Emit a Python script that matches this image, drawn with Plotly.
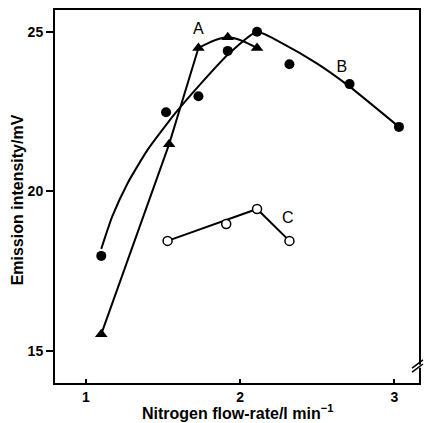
import plotly.graph_objects as go

# Series A (triangles)
flow_A = [1.10, 1.54, 1.73, 1.92, 2.11]
emis_A = [15.53, 21.48, 24.49, 24.83, 24.49]
# Series B (filled circles)
flow_B = [1.10, 1.52, 1.73, 1.92, 2.11, 2.32, 2.71, 3.03]
emis_B = [17.98, 22.48, 22.98, 24.40, 25.00, 23.98, 23.36, 22.02]
# Series C (open circles)
flow_C = [1.53, 1.91, 2.11, 2.32]
emis_C = [18.45, 18.98, 19.45, 18.45]
# Hand-drawn fitted curve for B, read along its path
curveB_x = [1.10, 1.17, 1.27, 1.40, 1.58, 1.75, 1.92, 2.11, 2.28, 2.50, 2.71, 3.03]
curveB_y = [18.20, 19.20, 20.25, 21.30, 22.45, 23.40, 24.28, 25.00, 24.62, 24.00, 23.28, 22.02]

x_ticks = [1, 2, 3]
y_ticks = [15, 20, 25]
labels = ["A", "B", "C"]
label_x = [1.73, 2.66, 2.31]
label_y = [25.05, 23.85, 19.15]
x_title = "Nitrogen flow-rate/l min<sup>−1</sup>"
y_title = "Emission intensity/mV"

LW = 2
fig = go.Figure()

# Curve A: straight rise then arc over the top
fig.add_trace(go.Scatter(x=flow_A[:3], y=emis_A[:3], mode="lines",
                         line=dict(color="black", width=LW)))
fig.add_trace(go.Scatter(x=flow_A[2:], y=emis_A[2:], mode="lines",
                         line=dict(color="black", width=LW, shape="spline", smoothing=1.0)))
# Curve B
fig.add_trace(go.Scatter(x=curveB_x, y=curveB_y, mode="lines",
                         line=dict(color="black", width=LW, shape="spline", smoothing=0.5)))
# Line C
fig.add_trace(go.Scatter(x=[flow_C[0], flow_C[2], flow_C[3]],
                         y=[emis_C[0], emis_C[2], emis_C[3]], mode="lines",
                         line=dict(color="black", width=LW)))

# Markers
fig.add_trace(go.Scatter(x=flow_A, y=emis_A, mode="markers",
                         marker=dict(symbol="triangle-up", size=11, color="black")))
fig.add_trace(go.Scatter(x=flow_B, y=emis_B, mode="markers",
                         marker=dict(symbol="circle", size=10, color="black")))
fig.add_trace(go.Scatter(x=flow_C, y=emis_C, mode="markers",
                         marker=dict(symbol="circle", size=9, color="white",
                                     line=dict(color="black", width=1.5))))

# Curve labels
fig.add_trace(go.Scatter(x=label_x, y=label_y, mode="text", text=labels,
                         textfont=dict(family="Arial", size=16, color="black")))

axis_common = dict(showline=True, linewidth=2, linecolor="black", mirror=True,
                   showgrid=False, zeroline=False, tickcolor="black", automargin=False,
                   tickfont=dict(family="Arial", size=14, color="black", weight="bold"))

title_font = dict(family="Arial", size=16, color="black", weight="bold")

fig.update_layout(
    width=426, height=423,
    margin=dict(l=55, r=7, t=10, b=40),
    paper_bgcolor="white", plot_bgcolor="white",
    showlegend=False,
    xaxis=dict(range=[0.80, 3.16], tickvals=x_ticks, ticks="inside", ticklen=4, tickwidth=1.5,
               **axis_common),
    yaxis=dict(range=[14.0, 25.68], tickvals=y_ticks, ticks="outside", ticklen=7, tickwidth=1.5,
               **axis_common),
    annotations=[
        dict(text=x_title, xref="paper", yref="paper", x=0.5, y=-0.077,
             xanchor="center", yanchor="middle", showarrow=False, font=title_font),
        dict(text=y_title, xref="paper", yref="paper", x=-0.104, y=0.49, textangle=-90,
             xanchor="center", yanchor="middle", showarrow=False, font=title_font),
    ],
    shapes=[
        dict(type="rect", xref="paper", yref="paper", x0=0.99, x1=1.02, y0=0.041, y1=0.049,
             fillcolor="white", line=dict(width=0), layer="above"),
        dict(type="line", xref="paper", yref="paper", x0=0.981, y0=0.040, x1=1.011, y1=0.062,
             line=dict(color="black", width=1.5), layer="above"),
        dict(type="line", xref="paper", yref="paper", x0=0.981, y0=0.029, x1=1.011, y1=0.051,
             line=dict(color="black", width=1.5), layer="above"),
    ],
)

fig.write_html("out.html")
